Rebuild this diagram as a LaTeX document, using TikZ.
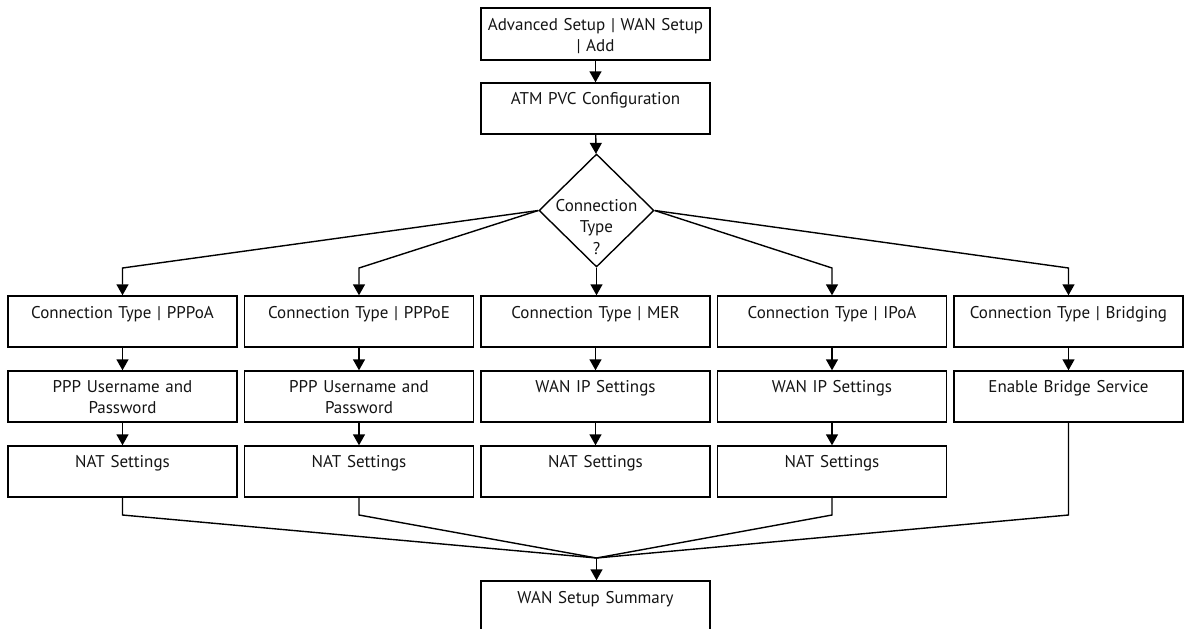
\documentclass[tikz,border=0pt]{standalone}
\usepackage{fontspec}
\setmainfont{PT Sans}
\usetikzlibrary{shapes.geometric,arrows.meta}
\begin{document}
\begin{tikzpicture}[x=1pt,y=-1pt,
  box/.style={draw=black, line width=1.4pt, minimum width=229pt, minimum height=51pt, inner sep=0pt},
  dia/.style={draw=black, line width=1.4pt, diamond, minimum width=115pt, minimum height=113pt, inner sep=0pt},
  txt/.style={anchor=base, text width=226pt, align=center, inner sep=0pt, font=\fontsize{17}{21.5}\selectfont, text=black!92},
  ln/.style={draw=black, line width=1.4pt},
  arr/.style={ln, -{Triangle[length=11pt,width=12pt]}}]
\useasboundingbox (0,0) rectangle (1189,629);
\clip (0,0) rectangle (1189,629);
% top chain
\node[box, minimum height=52pt] (top) at (595.5,34) {};
\node[txt] (topt) at ([yshift=-23pt]top.north) {Advanced Setup | WAN Setup\\| Add};
\node[box] (atm) at (595.5,108.5) {};
\node[txt] (atmt) at ([yshift=-22pt]atm.north) {ATM PVC Configuration};
\node[dia] (d) at (596.5,210.5) {};
\node[txt, text width=100pt] (dt) at (596.5,211) {Connection\\Type\\?};
% row 1
\node[box] (c1) at (122.5,321.5) {};
\node[box] (c2) at (359,321.5) {};
\node[box] (c3) at (595.5,321.5) {};
\node[box] (c4) at (832,321.5) {};
\node[box] (c5) at (1068.5,321.5) {};
\node[txt] (c1t) at ([yshift=-23pt]c1.north) {Connection Type | PPPoA};
\node[txt] (c2t) at ([yshift=-23pt]c2.north) {Connection Type | PPPoE};
\node[txt] (c3t) at ([yshift=-23pt]c3.north) {Connection Type | MER};
\node[txt] (c4t) at ([yshift=-23pt]c4.north) {Connection Type | IPoA};
\node[txt] (c5t) at ([yshift=-23pt]c5.north) {Connection Type | Bridging};
% row 2
\node[box] (s1) at (122.5,396.5) {};
\node[box] (s2) at (359,396.5) {};
\node[box] (s3) at (595.5,396.5) {};
\node[box] (s4) at (832,396.5) {};
\node[box] (s5) at (1068.5,396.5) {};
\node[txt] (s1t) at ([yshift=-22pt]s1.north) {PPP Username and\\Password};
\node[txt] (s2t) at ([yshift=-22pt]s2.north) {PPP Username and\\Password};
\node[txt] (s3t) at ([yshift=-22pt]s3.north) {WAN IP Settings};
\node[txt] (s4t) at ([yshift=-22pt]s4.north) {WAN IP Settings};
\node[txt] (s5t) at ([yshift=-22pt]s5.north) {Enable Bridge Service};
% row 3
\node[box] (n1) at (122.5,471.5) {};
\node[box] (n2) at (359,471.5) {};
\node[box] (n3) at (595.5,471.5) {};
\node[box] (n4) at (832,471.5) {};
\node[txt] (n1t) at ([yshift=-22pt]n1.north) {NAT Settings};
\node[txt] (n2t) at ([yshift=-22pt]n2.north) {NAT Settings};
\node[txt] (n3t) at ([yshift=-22pt]n3.north) {NAT Settings};
\node[txt] (n4t) at ([yshift=-22pt]n4.north) {NAT Settings};
% summary
\node[box] (sum) at (595.5,606.5) {};
\node[txt] (sumt) at ([yshift=-23pt]sum.north) {WAN Setup Summary};
% helper coordinates
\coordinate (ybr) at (0,268);
\coordinate (ybend) at (0,515);
\coordinate (m) at (596.5,558);
% connectors
\draw[arr] (top) -- (atm);
\draw[arr] (atm) -- (d);
\draw[arr] (d.west) -- (c1.north |- ybr) -- (c1.north);
\draw[arr] (d.west) -- (c2.north |- ybr) -- (c2.north);
\draw[arr] (d.south) -- (d.south |- c3.north);
\draw[arr] (d.east) -- (c4.north |- ybr) -- (c4.north);
\draw[arr] (d.east) -- (c5.north |- ybr) -- (c5.north);
\foreach \i in {1,...,5} {\draw[arr] (c\i) -- (s\i);}
\foreach \i in {1,...,4} {\draw[arr] (s\i) -- (n\i);}
\draw[ln] (n1.south) -- (n1.south |- ybend) -- (m);
\draw[ln] (n2.south) -- (n2.south |- ybend) -- (m);
\draw[ln] (n4.south) -- (n4.south |- ybend) -- (m);
\draw[ln] (s5.south) -- (s5.south |- ybend) -- (m);
\draw[arr] (m) -- (m |- sum.north);
\end{tikzpicture}
\end{document}
